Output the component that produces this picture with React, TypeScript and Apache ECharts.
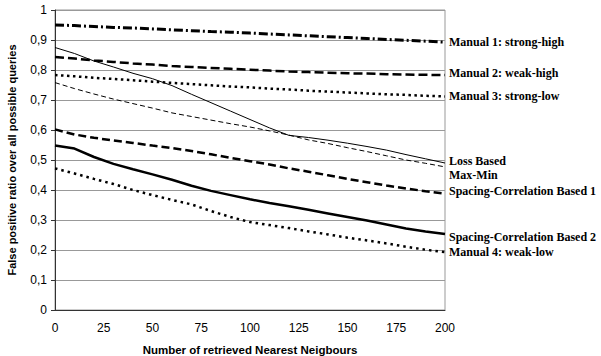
import React, { useEffect, useRef } from "react";
import * as echarts from "echarts";

const xs = [0, 10, 20, 30, 40, 50, 60, 70, 80, 90, 100, 110, 120, 130, 140, 150, 160, 170, 180, 190, 200];

const manual1 = [0.950, 0.948, 0.945, 0.942, 0.940, 0.937, 0.934, 0.931, 0.928, 0.926, 0.923, 0.920, 0.917, 0.914, 0.911, 0.908, 0.905, 0.902, 0.899, 0.896, 0.893];
const manual2 = [0.843, 0.838, 0.832, 0.827, 0.822, 0.818, 0.813, 0.810, 0.807, 0.804, 0.801, 0.798, 0.795, 0.793, 0.791, 0.789, 0.788, 0.786, 0.785, 0.784, 0.783];
const manual3 = [0.783, 0.779, 0.774, 0.770, 0.766, 0.761, 0.757, 0.753, 0.749, 0.745, 0.742, 0.738, 0.735, 0.731, 0.728, 0.725, 0.722, 0.719, 0.717, 0.714, 0.712];
const lossBased = [0.875, 0.855, 0.830, 0.810, 0.789, 0.771, 0.748, 0.719, 0.691, 0.663, 0.635, 0.607, 0.582, 0.575, 0.566, 0.556, 0.545, 0.533, 0.518, 0.504, 0.490];
const maxMin = [0.758, 0.738, 0.720, 0.703, 0.688, 0.673, 0.657, 0.645, 0.633, 0.621, 0.610, 0.597, 0.583, 0.567, 0.555, 0.541, 0.528, 0.514, 0.500, 0.489, 0.477];
const spacing1 = [0.602, 0.585, 0.574, 0.565, 0.557, 0.548, 0.540, 0.530, 0.519, 0.507, 0.496, 0.485, 0.472, 0.461, 0.449, 0.437, 0.426, 0.415, 0.405, 0.396, 0.388];
const spacing2 = [0.548, 0.538, 0.510, 0.487, 0.469, 0.452, 0.434, 0.414, 0.397, 0.383, 0.369, 0.357, 0.346, 0.334, 0.322, 0.310, 0.298, 0.285, 0.272, 0.262, 0.253];
const manual4 = [0.472, 0.455, 0.437, 0.420, 0.400, 0.383, 0.367, 0.352, 0.330, 0.310, 0.293, 0.283, 0.273, 0.262, 0.252, 0.241, 0.232, 0.222, 0.211, 0.201, 0.193];

const seriesNames = [
  "Manual 1: strong-high",
  "Manual 2: weak-high",
  "Manual 3: strong-low",
  "Loss Based",
  "Max-Min",
  "Spacing-Correlation Based 1",
  "Spacing-Correlation Based 2",
  "Manual 4: weak-low",
];

export default function App() {
  const ref = useRef<HTMLDivElement>(null);
  useEffect(() => {
    if (!ref.current) return;
    const chart = echarts.init(ref.current, null, { renderer: "svg" });
    const values = [manual1, manual2, manual3, lossBased, maxMin, spacing1, spacing2, manual4];
    const styles: any[] = [
      { width: 3, type: [9, 3, 2, 3], off: [0, 0] },
      { width: 2.5, type: [9, 4], off: [0, -2] },
      { width: 2.5, type: [2.5, 3.5], off: [0, 0] },
      { width: 1, type: "solid", off: [0, -2] },
      { width: 1, type: [5, 3], off: [0, 8] },
      { width: 2.5, type: [8, 4], off: [0, -3] },
      { width: 2.5, type: "solid", off: [0, 3] },
      { width: 2.5, type: [2.5, 4], off: [0, 0] },
    ];
    const series = values.map((vals, i) => ({
      name: seriesNames[i],
      type: "line",
      data: xs.map((x, j) => [x, vals[j]]),
      showSymbol: false,
      symbol: "none",
      lineStyle: { color: "#000", width: styles[i].width, type: styles[i].type },
      endLabel: {
        show: true,
        formatter: seriesNames[i],
        color: "#000",
        fontFamily: "Liberation Serif",
        fontWeight: "bold",
        fontSize: 12,
        distance: 4,
        offset: styles[i].off,
      },
      silent: true,
    }));
    chart.setOption({
      animation: false,
      grid: {
        left: 55,
        right: 156,
        top: 10,
        bottom: 46,
        show: true,
        borderColor: "#999",
        borderWidth: 1,
        containLabel: false,
        outerBoundsMode: "none",
      },
      xAxis: {
        type: "value",
        min: 0,
        max: 200,
        interval: 25,
        name: "Number of retrieved Nearest Neigbours",
        nameLocation: "middle",
        nameGap: 34,
        nameTextStyle: { fontFamily: "Liberation Sans", fontWeight: "bold", fontSize: 11.5, color: "#000" },
        axisLine: { show: true, lineStyle: { color: "#333", width: 1 } },
        axisTick: { show: false },
        axisLabel: { fontFamily: "Liberation Sans", fontSize: 12, color: "#000", margin: 12 },
        splitLine: { show: false },
      },
      yAxis: {
        type: "value",
        min: 0,
        max: 1,
        interval: 0.1,
        name: "False positive ratio over all possible queries",
        nameLocation: "middle",
        nameGap: 38,
        nameTextStyle: { fontFamily: "Liberation Sans", fontWeight: "bold", fontSize: 11, color: "#000" },
        axisLine: { show: true, lineStyle: { color: "#333", width: 1 } },
        axisTick: { show: true, length: 4, inside: false, lineStyle: { color: "#333" } },
        axisLabel: {
          fontFamily: "Liberation Sans",
          fontSize: 12,
          color: "#000",
          margin: 8,
          formatter: (v: number) => (v === 0 ? "0" : v === 1 ? "1" : v.toFixed(1).replace(".", ",")),
        },
        splitLine: { show: true, lineStyle: { color: "#999", width: 1 } },
      },
      series,
    });
    return () => chart.dispose();
  }, []);
  return <div ref={ref} style={{ width: 601, height: 356, position: "absolute", left: 0, top: 0, background: "#fff" }} />;
}
